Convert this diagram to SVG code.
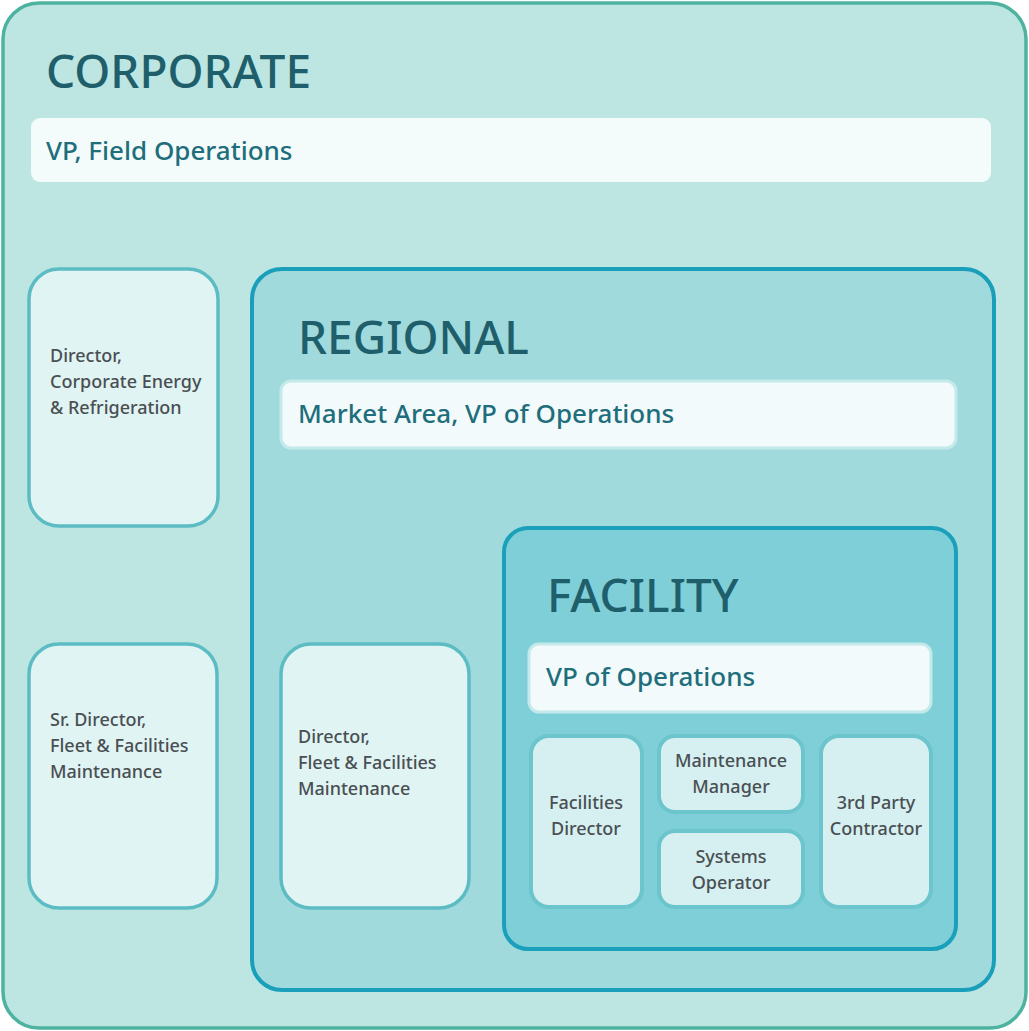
<svg xmlns="http://www.w3.org/2000/svg" width="1029" height="1031" viewBox="0 0 1029 1031">
  <style>
    .title { font-family: "Noto Sans", "DejaVu Sans", sans-serif; font-size: 46px; font-weight: 480; fill: #1f5f6b; }
    .bar-text { font-family: "Noto Sans", "DejaVu Sans", sans-serif; font-size: 26px; font-weight: 500; fill: #1e6e7c; }
    .label { font-family: "Noto Sans", "DejaVu Sans", sans-serif; font-size: 18px; font-weight: 500; fill: #4a4f52; }
    .mid { text-anchor: middle; }
    .bar { fill: #f3fafb; stroke: #c4e9ea; stroke-width: 3; }
    .card-outer { fill: #e0f4f4; stroke: #5cbcc3; stroke-width: 3.5; }
    .card-inner { fill: #d6f0f2; stroke: #6cc5cc; stroke-width: 4; }
  </style>

  <!-- Corporate level -->
  <g id="corporate">
    <rect x="3" y="3" width="1023" height="1025" rx="36" fill="#bde6e2" stroke="#4db3a0" stroke-width="3.5"/>
    <text class="title" x="46" y="88">CORPORATE</text>
  </g>
  <g id="vp-field-operations">
    <rect x="31" y="118" width="960" height="64" rx="9" fill="#f4fbfb"/>
    <text class="bar-text" x="46" y="160">VP, Field Operations</text>
  </g>
  <g id="director-energy">
    <rect class="card-outer" x="29" y="269" width="189" height="257" rx="30"/>
    <text class="label" x="50" y="362">Director,</text>
    <text class="label" x="50" y="388">Corporate Energy</text>
    <text class="label" x="50" y="414">&amp; Refrigeration</text>
  </g>
  <g id="sr-director-fleet">
    <rect class="card-outer" x="29" y="644" width="188" height="264" rx="30"/>
    <text class="label" x="50" y="726">Sr. Director,</text>
    <text class="label" x="50" y="752">Fleet &amp; Facilities</text>
    <text class="label" x="50" y="778">Maintenance</text>
  </g>

  <!-- Regional level -->
  <g id="regional">
    <rect x="252" y="269" width="742" height="721" rx="30" fill="#a0dadc" stroke="#1a9fba" stroke-width="4"/>
    <text class="title" x="298" y="354">REGIONAL</text>
  </g>
  <g id="market-area-vp">
    <rect class="bar" x="281" y="381" width="675" height="67" rx="10"/>
    <text class="bar-text" x="298" y="423">Market Area, VP of Operations</text>
  </g>
  <g id="director-fleet">
    <rect class="card-outer" x="281" y="644" width="188" height="264" rx="30"/>
    <text class="label" x="298" y="743">Director,</text>
    <text class="label" x="298" y="769">Fleet &amp; Facilities</text>
    <text class="label" x="298" y="795">Maintenance</text>
  </g>

  <!-- Facility level -->
  <g id="facility">
    <rect x="504" y="528" width="452" height="421" rx="24" fill="#7fcfd8" stroke="#1aa0bb" stroke-width="4"/>
    <text class="title" x="547" y="612">FACILITY</text>
  </g>
  <g id="facility-vp">
    <rect class="bar" x="529" y="644" width="402" height="68" rx="10"/>
    <text class="bar-text" x="546" y="686">VP of Operations</text>
  </g>
  <g id="facilities-director">
    <rect class="card-inner" x="531" y="736" width="111" height="171" rx="18"/>
    <text class="label mid" x="586" y="809">Facilities</text>
    <text class="label mid" x="586" y="835">Director</text>
  </g>
  <g id="maintenance-manager">
    <rect class="card-inner" x="659" y="736" width="144" height="76" rx="16"/>
    <text class="label mid" x="731" y="767">Maintenance</text>
    <text class="label mid" x="731" y="793">Manager</text>
  </g>
  <g id="systems-operator">
    <rect class="card-inner" x="659" y="831" width="144" height="76" rx="16"/>
    <text class="label mid" x="731" y="863">Systems</text>
    <text class="label mid" x="731" y="889">Operator</text>
  </g>
  <g id="third-party-contractor">
    <rect class="card-inner" x="821" y="736" width="110" height="171" rx="18"/>
    <text class="label mid" x="876" y="809">3rd Party</text>
    <text class="label mid" x="876" y="835">Contractor</text>
  </g>
</svg>
